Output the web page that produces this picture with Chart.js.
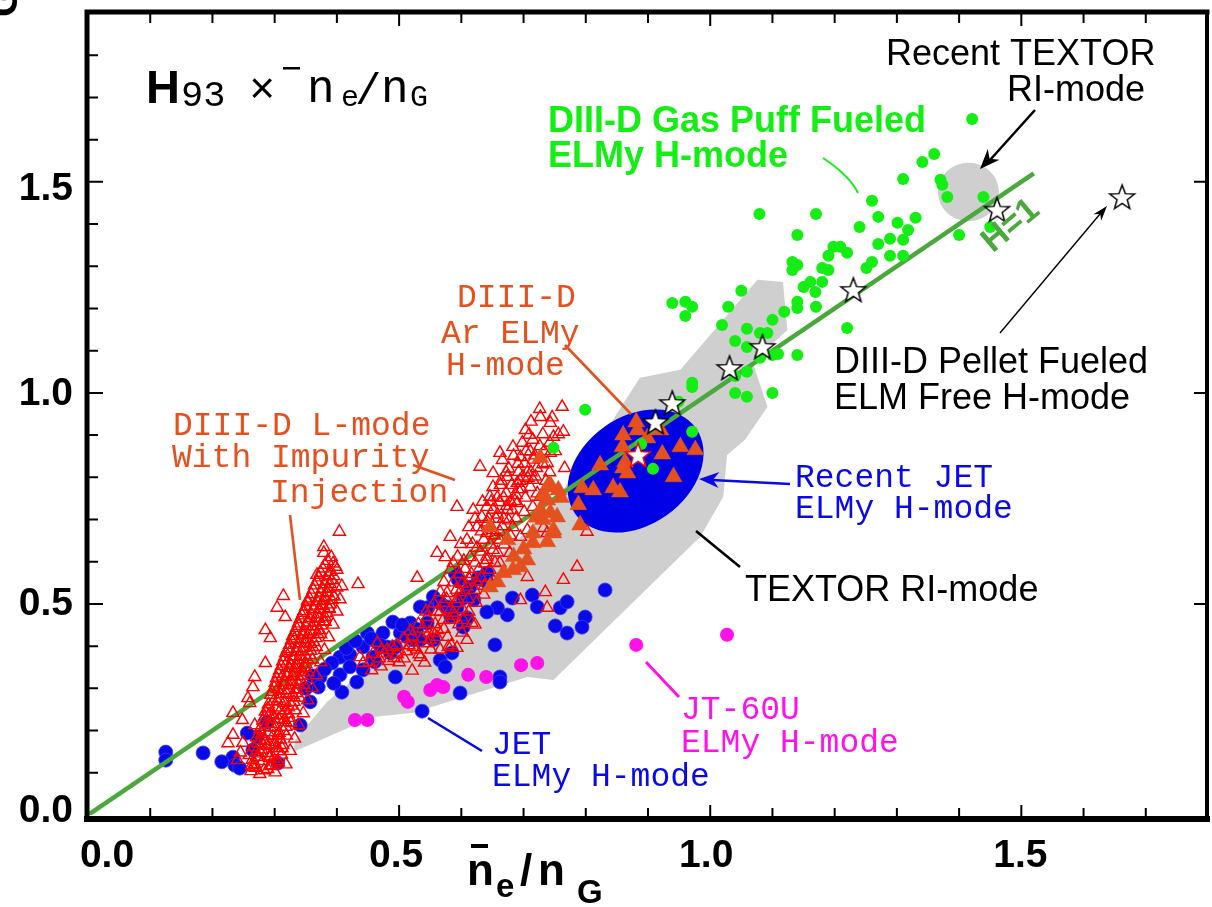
<!DOCTYPE html>
<html>
<head>
<meta charset="utf-8">
<script src="https://cdn.jsdelivr.net/npm/chart.js@4.4.0/dist/chart.umd.min.js"></script>
<style>
html, body { margin: 0; padding: 0; background: #fff; }
canvas { display: block; }
</style>
</head>
<body>
<canvas id="chart" width="1212" height="907"></canvas>
<script>
// Axis ticks
const xTickValues = [0, 0.5, 1.0, 1.5];
const xTickLabels = ['0.0', '0.5', '1.0', '1.5'];
const yTickValues = [0, 0.5, 1.0, 1.5];
const yTickLabels = ['0.0', '0.5', '1.0', '1.5'];

// H = 1 line
const h1Line = [[0, 0], [1.52, 1.52]];

// TEXTOR RI-mode region (outline)
const textorRegion = [
    [0.330, 0.149], [0.458, 0.232], [0.523, 0.242], [0.706, 0.327], [0.748, 0.320],
    [0.855, 0.474], [0.984, 0.659], [1.021, 0.754], [1.027, 0.853], [1.056, 0.889],
    [1.092, 0.967], [1.068, 1.073], [1.124, 1.149], [1.117, 1.263], [1.076, 1.268],
    [0.952, 1.055], [0.887, 1.036], [0.823, 0.889], [0.727, 0.699], [0.614, 0.557],
    [0.502, 0.415], [0.384, 0.268], [0.333, 0.178], [0.330, 0.149]
];

// Recent TEXTOR RI-mode and recent JET ELMy H-mode (centre x, y)
const textorRecent = [1.415, 1.476];
const jetRecent = [0.880, 0.815];

// DIII-D pellet fueled ELM free H-mode
const pelletStars = [
    [1.662, 1.464], [1.461, 1.434], [1.230, 1.244], [1.084, 1.109],
    [1.031, 1.059], [0.939, 0.976], [0.912, 0.931]
];
const redStar = [[0.884, 0.853]];

// DIII-D gas puff fueled ELMy H-mode
const gasPuff = [
    [1.421, 1.649], [1.360, 1.566], [1.341, 1.547], [1.310, 1.507], [1.370, 1.505],
    [1.373, 1.493], [1.381, 1.464], [1.439, 1.464], [1.450, 1.393], [1.400, 1.374],
    [1.260, 1.455], [1.330, 1.415], [1.301, 1.403], [1.270, 1.417], [1.240, 1.393],
    [1.318, 1.386], [1.310, 1.363], [1.289, 1.365], [1.270, 1.353], [1.289, 1.325],
    [1.310, 1.325], [1.260, 1.310], [1.251, 1.296], [1.170, 1.424], [1.079, 1.424],
    [1.140, 1.374], [1.198, 1.346], [1.209, 1.346], [1.220, 1.332], [1.190, 1.325],
    [1.132, 1.310], [1.140, 1.303], [1.132, 1.291], [1.180, 1.296], [1.190, 1.291],
    [1.180, 1.263], [1.161, 1.263], [1.150, 1.251], [1.169, 1.239], [1.140, 1.216],
    [1.140, 1.201], [1.170, 1.204], [1.119, 1.192], [1.100, 1.173], [1.050, 1.242],
    [1.029, 1.204], [0.939, 1.213], [0.960, 1.216], [0.971, 1.204], [0.960, 1.182],
    [1.019, 1.161], [1.059, 1.152], [1.080, 1.142], [1.092, 1.142], [1.040, 1.123],
    [1.059, 1.109], [1.100, 1.090], [1.109, 1.092], [1.140, 1.090], [1.080, 1.083],
    [1.220, 1.154], [1.040, 1.040], [1.059, 1.050], [0.971, 1.024], [0.971, 1.014],
    [1.040, 1.000], [1.059, 0.991], [1.100, 1.000], [0.949, 0.979], [0.971, 0.908],
    [0.799, 0.960], [0.748, 0.870], [0.889, 0.879], [0.908, 0.820]
];

// DIII-D Ar ELMy H-mode
const arElmy = [
    [0.881, 0.931], [0.883, 0.912], [0.920, 0.912], [0.860, 0.900], [0.899, 0.893],
    [0.952, 0.872], [0.976, 0.865], [0.859, 0.872], [0.923, 0.855], [0.863, 0.836],
    [0.823, 0.829], [0.867, 0.810], [0.860, 0.822], [0.941, 0.801], [0.794, 0.775],
    [0.812, 0.770], [0.844, 0.775], [0.855, 0.765], [0.788, 0.735], [0.791, 0.687],
    [0.748, 0.668], [0.738, 0.647], [0.738, 0.777], [0.756, 0.770], [0.732, 0.758],
    [0.743, 0.716], [0.754, 0.706], [0.727, 0.846], [0.743, 0.782], [0.738, 0.746],
    [0.748, 0.675], [0.715, 0.645], [0.706, 0.604], [0.683, 0.581], [0.658, 0.552],
    [0.646, 0.540], [0.727, 0.723], [0.715, 0.668], [0.646, 0.682], [0.674, 0.652],
    [0.695, 0.588], [0.720, 0.705], [0.700, 0.630], [0.684, 0.612], [0.760, 0.752],
    [0.731, 0.700], [0.668, 0.574]
];

// DIII-D L-mode with impurity injection
const lModeLow = [
    [0.262, 0.104], [0.276, 0.097], [0.289, 0.109], [0.301, 0.101], [0.268, 0.121],
    [0.281, 0.128], [0.293, 0.116], [0.306, 0.124], [0.259, 0.142], [0.273, 0.138],
    [0.287, 0.147], [0.298, 0.134], [0.311, 0.143], [0.266, 0.161], [0.279, 0.155],
    [0.292, 0.167], [0.304, 0.159], [0.271, 0.184], [0.284, 0.176], [0.297, 0.187],
    [0.309, 0.179], [0.276, 0.203], [0.289, 0.196], [0.301, 0.208], [0.314, 0.199],
    [0.281, 0.224], [0.294, 0.216], [0.306, 0.227], [0.318, 0.220], [0.285, 0.245],
    [0.298, 0.236], [0.309, 0.248], [0.322, 0.240], [0.290, 0.262], [0.302, 0.255],
    [0.315, 0.266], [0.327, 0.259], [0.294, 0.285], [0.307, 0.276], [0.319, 0.288],
    [0.331, 0.279], [0.299, 0.302], [0.311, 0.295], [0.323, 0.307], [0.336, 0.298],
    [0.303, 0.324], [0.316, 0.316], [0.329, 0.328], [0.341, 0.319], [0.308, 0.343],
    [0.321, 0.336], [0.333, 0.347], [0.346, 0.339], [0.313, 0.364], [0.326, 0.355],
    [0.338, 0.366], [0.350, 0.358], [0.318, 0.384], [0.331, 0.376], [0.343, 0.388],
    [0.356, 0.379], [0.324, 0.403], [0.336, 0.395], [0.349, 0.407], [0.361, 0.398],
    [0.329, 0.424], [0.342, 0.416], [0.354, 0.427], [0.366, 0.419], [0.335, 0.443],
    [0.347, 0.435], [0.360, 0.447], [0.372, 0.438], [0.341, 0.464], [0.353, 0.456],
    [0.366, 0.467], [0.378, 0.459], [0.347, 0.483], [0.359, 0.475], [0.372, 0.487],
    [0.384, 0.478], [0.353, 0.504], [0.366, 0.496], [0.378, 0.507], [0.389, 0.499],
    [0.359, 0.523], [0.371, 0.515], [0.384, 0.527], [0.395, 0.518], [0.364, 0.544],
    [0.377, 0.536], [0.389, 0.547], [0.400, 0.539], [0.371, 0.563], [0.383, 0.555],
    [0.395, 0.566], [0.377, 0.584], [0.389, 0.576], [0.398, 0.588], [0.385, 0.602],
    [0.394, 0.596], [0.404, 0.671], [0.379, 0.635], [0.379, 0.621], [0.368, 0.569],
    [0.400, 0.581], [0.434, 0.547], [0.314, 0.519], [0.304, 0.491], [0.317, 0.469],
    [0.285, 0.438], [0.293, 0.419], [0.285, 0.360], [0.268, 0.327], [0.265, 0.303],
    [0.257, 0.277], [0.260, 0.265], [0.233, 0.242], [0.248, 0.225], [0.268, 0.213],
    [0.233, 0.190], [0.249, 0.171], [0.265, 0.114], [0.272, 0.137], [0.225, 0.170],
    [0.240, 0.130], [0.245, 0.148],
    [0.269, 0.112], [0.283, 0.106], [0.296, 0.118], [0.264, 0.131], [0.278, 0.146],
    [0.292, 0.139], [0.305, 0.151], [0.273, 0.170], [0.287, 0.164], [0.300, 0.173],
    [0.313, 0.166], [0.279, 0.192], [0.293, 0.207], [0.306, 0.190], [0.318, 0.209],
    [0.284, 0.233], [0.299, 0.228], [0.312, 0.236], [0.324, 0.230], [0.289, 0.252],
    [0.304, 0.270], [0.317, 0.248], [0.331, 0.268], [0.296, 0.292], [0.309, 0.286],
    [0.322, 0.296], [0.334, 0.289], [0.301, 0.313], [0.314, 0.307], [0.327, 0.315],
    [0.339, 0.309], [0.306, 0.334], [0.319, 0.329], [0.331, 0.336], [0.344, 0.330],
    [0.311, 0.353], [0.323, 0.348], [0.336, 0.356], [0.348, 0.349], [0.316, 0.374],
    [0.329, 0.367], [0.341, 0.376], [0.353, 0.369], [0.321, 0.393], [0.334, 0.387],
    [0.346, 0.396], [0.358, 0.389], [0.327, 0.414], [0.339, 0.407], [0.351, 0.416],
    [0.363, 0.410], [0.332, 0.433], [0.344, 0.428], [0.357, 0.436], [0.369, 0.429],
    [0.338, 0.454], [0.350, 0.447], [0.363, 0.456], [0.375, 0.449], [0.344, 0.473],
    [0.356, 0.467], [0.369, 0.476], [0.381, 0.469], [0.350, 0.494], [0.362, 0.488],
    [0.375, 0.497], [0.387, 0.490], [0.356, 0.513], [0.368, 0.507], [0.381, 0.516],
    [0.392, 0.509], [0.362, 0.534], [0.374, 0.527], [0.386, 0.536], [0.368, 0.553],
    [0.380, 0.547], [0.392, 0.556], [0.374, 0.574], [0.386, 0.568], [0.381, 0.593],
    [0.391, 0.611],
    [0.318, 0.120], [0.263, 0.118], [0.325, 0.152], [0.270, 0.149], [0.332, 0.181],
    [0.277, 0.178], [0.339, 0.212], [0.284, 0.209], [0.346, 0.241], [0.291, 0.238],
    [0.353, 0.272], [0.298, 0.269], [0.360, 0.301], [0.305, 0.298], [0.367, 0.331],
    [0.312, 0.328], [0.374, 0.362], [0.319, 0.359], [0.380, 0.391], [0.325, 0.388],
    [0.387, 0.421], [0.332, 0.418], [0.394, 0.451], [0.339, 0.448], [0.400, 0.482],
    [0.346, 0.479], [0.405, 0.511], [0.353, 0.508], [0.408, 0.542],
    [0.292, 0.135], [0.300, 0.165], [0.307, 0.195], [0.315, 0.225], [0.322, 0.255],
    [0.329, 0.285], [0.336, 0.315], [0.343, 0.345], [0.350, 0.375], [0.357, 0.405],
    [0.364, 0.435], [0.371, 0.465], [0.378, 0.495], [0.385, 0.525],
    [0.305, 0.128], [0.312, 0.158], [0.319, 0.188], [0.326, 0.218], [0.333, 0.248],
    [0.340, 0.278], [0.347, 0.308], [0.354, 0.338], [0.361, 0.368], [0.367, 0.398],
    [0.374, 0.428], [0.381, 0.458], [0.388, 0.488], [0.395, 0.518]
];
const lModeHigh = [
    [0.437, 0.374], [0.442, 0.360], [0.465, 0.408], [0.481, 0.391], [0.489, 0.398],
    [0.529, 0.562], [0.523, 0.398], [0.534, 0.374], [0.545, 0.469], [0.555, 0.431],
    [0.550, 0.415], [0.561, 0.621], [0.574, 0.611], [0.577, 0.526], [0.579, 0.398],
    [0.593, 0.502], [0.587, 0.479], [0.593, 0.396], [0.603, 0.462], [0.609, 0.415],
    [0.617, 0.455], [0.619, 0.723], [0.593, 0.730], [0.582, 0.659], [0.587, 0.597],
    [0.609, 0.652], [0.614, 0.611], [0.625, 0.633], [0.633, 0.706], [0.630, 0.825],
    [0.646, 0.754], [0.651, 0.810], [0.662, 0.858], [0.666, 0.841], [0.674, 0.801],
    [0.683, 0.872], [0.695, 0.848], [0.703, 0.912], [0.715, 0.889], [0.727, 0.943],
    [0.743, 0.929], [0.762, 0.967], [0.764, 0.908], [0.748, 0.896], [0.715, 0.794],
    [0.727, 0.754], [0.715, 0.730], [0.690, 0.739], [0.674, 0.723], [0.651, 0.675],
    [0.641, 0.668], [0.662, 0.652], [0.678, 0.621], [0.662, 0.597], [0.641, 0.604],
    [0.683, 0.682], [0.695, 0.659], [0.706, 0.675], [0.732, 0.680], [0.738, 0.668],
    [0.786, 0.588], [0.764, 0.557], [0.735, 0.528], [0.738, 0.491], [0.695, 0.509],
    [0.706, 0.564], [0.667, 0.573], [0.802, 0.671], [0.743, 0.858], [0.738, 0.834],
    [0.690, 0.787], [0.711, 0.777], [0.651, 0.777], [0.641, 0.730], [0.625, 0.682],
    [0.651, 0.723], [0.500, 0.362], [0.512, 0.388], [0.521, 0.423], [0.538, 0.442],
    [0.546, 0.407], [0.558, 0.452], [0.566, 0.481], [0.571, 0.503], [0.581, 0.463],
    [0.592, 0.534], [0.601, 0.548], [0.606, 0.583], [0.616, 0.571], [0.622, 0.598],
    [0.631, 0.624], [0.636, 0.652], [0.642, 0.693], [0.647, 0.641], [0.656, 0.702],
    [0.661, 0.741], [0.666, 0.684], [0.672, 0.763], [0.676, 0.698], [0.681, 0.782],
    [0.686, 0.744], [0.692, 0.813], [0.697, 0.772], [0.702, 0.833], [0.707, 0.798],
    [0.711, 0.861], [0.721, 0.822], [0.726, 0.874], [0.731, 0.902], [0.736, 0.792],
    [0.742, 0.812], [0.722, 0.762], [0.701, 0.718], [0.688, 0.703], [0.679, 0.662],
    [0.669, 0.641], [0.658, 0.622], [0.654, 0.598], [0.646, 0.581], [0.632, 0.562],
    [0.621, 0.533], [0.611, 0.512], [0.602, 0.488], [0.589, 0.472], [0.572, 0.441],
    [0.561, 0.422], [0.551, 0.392], [0.532, 0.381], [0.471, 0.352], [0.492, 0.372],
    [0.456, 0.343], [0.476, 0.383], [0.521, 0.342], [0.541, 0.361], [0.584, 0.402],
    [0.601, 0.432], [0.622, 0.451], [0.636, 0.522], [0.652, 0.553], [0.751, 0.862],
    [0.756, 0.902], [0.726, 0.962], [0.712, 0.932], [0.746, 0.942], [0.766, 0.822],
    [0.452, 0.362], [0.468, 0.371], [0.483, 0.365], [0.497, 0.381], [0.508, 0.371],
    [0.516, 0.402], [0.528, 0.392], [0.536, 0.418], [0.548, 0.432], [0.562, 0.438],
    [0.571, 0.462], [0.583, 0.488], [0.594, 0.512], [0.598, 0.528], [0.609, 0.541],
    [0.613, 0.558], [0.624, 0.552], [0.628, 0.582], [0.638, 0.596], [0.641, 0.612],
    [0.651, 0.628], [0.653, 0.662], [0.662, 0.671], [0.668, 0.702], [0.673, 0.732],
    [0.682, 0.722], [0.688, 0.758], [0.694, 0.792], [0.703, 0.752], [0.706, 0.812],
    [0.716, 0.842], [0.719, 0.802], [0.731, 0.831], [0.733, 0.862], [0.742, 0.882],
    [0.658, 0.752], [0.664, 0.792], [0.676, 0.821], [0.684, 0.851], [0.698, 0.882],
    [0.709, 0.901], [0.634, 0.742], [0.622, 0.702], [0.612, 0.682], [0.599, 0.642],
    [0.594, 0.612], [0.583, 0.582], [0.572, 0.552], [0.566, 0.528], [0.556, 0.501],
    [0.543, 0.482], [0.531, 0.452], [0.518, 0.436], [0.508, 0.418], [0.496, 0.402],
    [0.472, 0.392], [0.458, 0.382], [0.566, 0.392], [0.578, 0.422], [0.596, 0.452],
    [0.612, 0.482], [0.624, 0.503], [0.637, 0.543],
    [0.658, 0.712], [0.668, 0.752], [0.679, 0.742], [0.691, 0.772], [0.699, 0.802],
    [0.712, 0.812], [0.718, 0.852], [0.704, 0.862], [0.691, 0.832], [0.672, 0.812],
    [0.663, 0.782], [0.648, 0.742], [0.644, 0.702], [0.632, 0.672], [0.618, 0.642],
    [0.604, 0.602], [0.597, 0.571], [0.587, 0.551], [0.576, 0.512], [0.561, 0.482]
];

// JET ELMy H-mode
const jetElmy = [
    [0.831, 0.533], [0.714, 0.521], [0.722, 0.493], [0.759, 0.491], [0.770, 0.505],
    [0.799, 0.469], [0.794, 0.445], [0.751, 0.448], [0.770, 0.431], [0.682, 0.514],
    [0.674, 0.474], [0.658, 0.491], [0.641, 0.481], [0.654, 0.403], [0.662, 0.327],
    [0.662, 0.315], [0.598, 0.289], [0.537, 0.246], [0.494, 0.327], [0.432, 0.315],
    [0.408, 0.291], [0.405, 0.332], [0.405, 0.374], [0.421, 0.379], [0.421, 0.351],
    [0.449, 0.431], [0.442, 0.398], [0.442, 0.344], [0.474, 0.431], [0.490, 0.457],
    [0.518, 0.455], [0.502, 0.431], [0.513, 0.422], [0.523, 0.415], [0.494, 0.398],
    [0.481, 0.398], [0.458, 0.374], [0.461, 0.363], [0.486, 0.384], [0.534, 0.415],
    [0.555, 0.415], [0.545, 0.491], [0.534, 0.493], [0.555, 0.517], [0.566, 0.502],
    [0.577, 0.493], [0.593, 0.491], [0.590, 0.573], [0.595, 0.557], [0.603, 0.514],
    [0.609, 0.467], [0.603, 0.445], [0.614, 0.540], [0.627, 0.562], [0.641, 0.573],
    [0.641, 0.552], [0.566, 0.367], [0.574, 0.351], [0.585, 0.384], [0.373, 0.327],
    [0.370, 0.303], [0.357, 0.268], [0.341, 0.213], [0.288, 0.220], [0.272, 0.185],
    [0.256, 0.194], [0.265, 0.154], [0.233, 0.137], [0.236, 0.118], [0.215, 0.126],
    [0.305, 0.123], [0.185, 0.147], [0.125, 0.149], [0.125, 0.130], [0.244, 0.111],
    [0.392, 0.360], [0.415, 0.395], [0.430, 0.412], [0.455, 0.418], [0.470, 0.402],
    [0.505, 0.450], [0.528, 0.440], [0.545, 0.455], [0.583, 0.470], [0.620, 0.510],
    [0.350, 0.300], [0.360, 0.330], [0.395, 0.312], [0.380, 0.345]
];

// JT-60U ELMy H-mode
const jt60u = [
    [0.429, 0.225], [0.449, 0.225], [0.508, 0.280], [0.514, 0.268], [0.550, 0.296],
    [0.561, 0.308], [0.571, 0.303], [0.611, 0.332], [0.640, 0.327], [0.696, 0.355],
    [0.722, 0.360], [0.881, 0.403], [1.027, 0.427]
];

const toXY = arr => arr.map(p => ({ x: p[0], y: p[1] }));

// Colours
const BLUE = '#0a0ae8';
const MAGENTA = '#ff12ea';
const LIME = '#14ee14';
const ORANGE = '#e5501f';
const RED = '#ff0000';
const LINE_GREEN = '#4aa83c';
const GREY = '#cfcfcf';

const SANS = '"Liberation Sans", Arial, Helvetica, sans-serif';
const MONO = '"Liberation Mono", "Courier New", monospace';

function makeStar(stroke) {
    const c = document.createElement('canvas');
    c.width = 30; c.height = 30;
    const g = c.getContext('2d');
    g.beginPath();
    for (let i = 0; i < 10; i++) {
        const r = i % 2 ? 5.4 : 13;
        const a = -Math.PI / 2 + i * Math.PI / 5;
        g.lineTo(15 + r * Math.cos(a), 16 + r * Math.sin(a));
    }
    g.closePath();
    g.fillStyle = '#fff';
    g.fill();
    g.strokeStyle = stroke;
    g.lineWidth = 1.5;
    g.stroke();
    return c;
}

const POLY_INDEX = 8;

// helpers for annotations
function seg(ctx, pts, color, w) {
    ctx.save();
    ctx.strokeStyle = color;
    ctx.lineWidth = w;
    ctx.lineCap = 'butt';
    ctx.beginPath();
    pts.forEach((p, i) => i ? ctx.lineTo(p[0], p[1]) : ctx.moveTo(p[0], p[1]));
    ctx.stroke();
    ctx.restore();
}

function arrowHead(ctx, from, tip, color, len, half) {
    const a = Math.atan2(tip[1] - from[1], tip[0] - from[0]);
    ctx.save();
    ctx.translate(tip[0], tip[1]);
    ctx.rotate(a);
    ctx.fillStyle = color;
    ctx.beginPath();
    ctx.moveTo(0, 0);
    ctx.lineTo(-len, -half);
    ctx.lineTo(-len * 0.7, 0);
    ctx.lineTo(-len, half);
    ctx.closePath();
    ctx.fill();
    ctx.restore();
}

function txt(ctx, s, x, y, font, color) {
    ctx.save();
    ctx.font = font;
    ctx.fillStyle = color;
    ctx.textAlign = 'left';
    ctx.textBaseline = 'alphabetic';
    ctx.fillText(s, x, y);
    ctx.restore();
}

const shapesPlugin = {
    id: 'shapes',
    afterDatasetDraw(chart, args) {
        if (args.index !== POLY_INDEX) return;
        const { ctx, scales: { x, y } } = chart;
        const ppu = x.getPixelForValue(1) - x.getPixelForValue(0);
        ctx.save();
        // recent TEXTOR
        ctx.fillStyle = GREY;
        ctx.beginPath();
        ctx.ellipse(x.getPixelForValue(textorRecent[0]), y.getPixelForValue(textorRecent[1]),
            0.049 * ppu, 0.047 * ppu, 0, 0, Math.PI * 2);
        ctx.fill();
        // recent JET
        ctx.fillStyle = '#0000e6';
        ctx.beginPath();
        ctx.ellipse(x.getPixelForValue(jetRecent[0]), y.getPixelForValue(jetRecent[1]),
            0.119 * ppu, 0.087 * ppu, -35.5 * Math.PI / 180, 0, Math.PI * 2);
        ctx.fill();
        ctx.restore();
    }
};

const framePlugin = {
    id: 'frame',
    afterDraw(chart) {
        const { ctx, chartArea: a, scales: { x, y } } = chart;
        ctx.save();
        ctx.strokeStyle = '#000';
        ctx.lineCap = 'square';
        // frame
        ctx.lineWidth = 5;
        ctx.beginPath();
        ctx.moveTo(a.left - 1, a.top - 1); ctx.lineTo(a.left - 1, a.bottom + 4);
        ctx.moveTo(a.left - 1, a.top - 1); ctx.lineTo(a.right - 1, a.top - 1);
        ctx.stroke();
        ctx.lineWidth = 6;
        ctx.beginPath();
        ctx.moveTo(a.left - 1, a.bottom + 4); ctx.lineTo(a.right - 1, a.bottom + 4);
        ctx.stroke();
        ctx.lineWidth = 4;
        ctx.beginPath();
        ctx.moveTo(a.right - 1, a.top - 1); ctx.lineTo(a.right - 1, a.bottom + 4);
        ctx.stroke();
        // ticks
        ctx.lineCap = 'butt';
        ctx.lineWidth = 2;
        ctx.beginPath();
        for (let i = 1; i < 18; i++) {
            const v = i / 10;
            const px = x.getPixelForValue(v);
            const len = i % 5 === 0 ? 12 : 9;
            ctx.moveTo(px, a.bottom + 2); ctx.lineTo(px, a.bottom + 2 - len);
            ctx.moveTo(px, a.top + 1); ctx.lineTo(px, a.top + 1 + len);
        }
        for (let i = 1; i < 19; i++) {
            const v = i / 10;
            const py = y.getPixelForValue(v);
            const major = i % 5 === 0;
            ctx.moveTo(a.left + 1, py); ctx.lineTo(a.left + 1 + (major ? 14 : 9), py);
            if (major) { ctx.moveTo(a.right - 2, py); ctx.lineTo(a.right - 14, py); }
        }
        ctx.stroke();

        // tick labels
        ctx.fillStyle = '#000';
        ctx.font = 'bold 39px ' + SANS;
        ctx.textBaseline = 'alphabetic';
        ctx.textAlign = 'center';
        const xShift = [19, -3, -4, -1];
        xTickValues.forEach((v, i) => {
            ctx.fillText(xTickLabels[i], x.getPixelForValue(v) + xShift[i], 867);
        });
        ctx.textAlign = 'right';
        const yShift = [-7, -3, -2, 4];
        yTickValues.forEach((v, i) => {
            ctx.fillText(yTickLabels[i], 73, y.getPixelForValue(v) + yShift[i] + 14);
        });

        // axis title  n̄e/nG
        ctx.textAlign = 'left';
        ctx.font = 'bold 44px ' + SANS;
        ctx.fillText('n', 467, 885);
        ctx.fillText('/', 520, 885);
        ctx.fillText('n', 538, 885);
        ctx.font = 'bold 33px ' + SANS;
        ctx.fillText('e', 496, 897);
        ctx.fillText('G', 577, 903);
        ctx.fillRect(471, 844, 17, 4);

        // cut-off rotated title fragment
        ctx.save();
        ctx.translate(17, 17);
        ctx.rotate(-Math.PI / 2);
        ctx.font = 'bold 40px ' + SANS;
        ctx.fillText('G', 0, 0);
        ctx.restore();
        ctx.restore();
    }
};

const notesPlugin = {
    id: 'notes',
    afterDatasetsDraw(chart) {
        const { ctx } = chart;
        const courier = '33px ' + MONO;
        const helv = '36px ' + SANS;

        // H93 x n̄e/nG
        txt(ctx, 'H', 146, 103, 'bold 47px ' + SANS, '#000');
        txt(ctx, '93', 181, 106, '37px ' + MONO, '#000');
        txt(ctx, '\u00d7', 249, 103, '44px ' + MONO, '#000');
        ctx.fillStyle = '#000';
        ctx.fillRect(283, 67, 17, 2.5);
        txt(ctx, 'n', 307, 102, '46px ' + MONO, '#000');
        txt(ctx, 'e', 341, 106, '30px ' + MONO, '#000');
        txt(ctx, '/', 355, 104, '44px ' + MONO, '#000');
        txt(ctx, 'n', 381, 102, '46px ' + MONO, '#000');
        txt(ctx, 'G', 410, 106, '30px ' + MONO, '#000');

        // H=1 label
        ctx.save();
        ctx.translate(1011, 226);
        ctx.rotate(-40 * Math.PI / 180);
        ctx.font = 'bold 34px ' + SANS;
        ctx.fillStyle = LINE_GREEN;
        ctx.textAlign = 'center';
        ctx.textBaseline = 'middle';
        ctx.fillText('H=1', 0, 0);
        ctx.restore();

        // Recent TEXTOR
        txt(ctx, 'Recent TEXTOR', 886, 65, helv, '#000');
        txt(ctx, 'RI-mode', 1007, 101, helv, '#000');
        seg(ctx, [[1035, 110], [990, 160]], '#000', 2.6);
        arrowHead(ctx, [1035, 110], [980, 169], '#000', 20, 8);

        // gas puff
        txt(ctx, 'DIII-D Gas Puff Fueled', 548, 132, 'bold 36px ' + SANS, LIME);
        txt(ctx, 'ELMy H-mode', 548, 167, 'bold 36px ' + SANS, LIME);
        ctx.save();
        ctx.strokeStyle = LIME;
        ctx.lineWidth = 2;
        ctx.beginPath();
        ctx.moveTo(823, 158);
        ctx.quadraticCurveTo(850, 176, 858, 193);
        ctx.stroke();
        ctx.restore();

        // pellet
        txt(ctx, 'DIII-D Pellet Fueled', 834, 373, helv, '#000');
        txt(ctx, 'ELM Free H-mode', 834, 409, helv, '#000');
        seg(ctx, [[1000, 333], [1100, 214]], '#000', 1.4);
        arrowHead(ctx, [1000, 333], [1107, 206], '#000', 15, 5);

        // Ar ELMy
        txt(ctx, 'DIII-D', 457, 307, courier, ORANGE);
        txt(ctx, 'Ar ELMy', 441, 343, courier, ORANGE);
        txt(ctx, 'H-mode', 446, 375, courier, ORANGE);
        seg(ctx, [[565, 345], [631, 414]], ORANGE, 2.6);

        // L-mode
        txt(ctx, 'DIII-D L-mode', 173, 435, courier, ORANGE);
        txt(ctx, 'With Impurity', 172, 467, courier, ORANGE);
        txt(ctx, 'Injection', 270, 502, courier, ORANGE);
        seg(ctx, [[413, 465], [455, 480]], ORANGE, 2.6);
        seg(ctx, [[290, 515], [300, 600]], ORANGE, 2.6);

        // Recent JET
        txt(ctx, 'Recent JET', 795, 487, courier, BLUE);
        txt(ctx, 'ELMy H-mode', 795, 518, courier, BLUE);
        seg(ctx, [[790, 484], [712, 480]], BLUE, 2.6);
        arrowHead(ctx, [790, 484], [699, 479], BLUE, 20, 8);

        // TEXTOR RI-mode
        txt(ctx, 'TEXTOR RI-mode', 745, 601, helv, '#000');
        seg(ctx, [[696, 531], [740, 567]], '#000', 2.6);

        // JET
        txt(ctx, 'JET', 492, 754, courier, BLUE);
        txt(ctx, 'ELMy H-mode', 492, 786, courier, BLUE);
        seg(ctx, [[428, 718], [482, 751]], BLUE, 2.6);

        // JT-60U
        txt(ctx, 'JT-60U', 681, 719, courier, MAGENTA);
        txt(ctx, 'ELMy H-mode', 681, 752, courier, MAGENTA);
        seg(ctx, [[646, 662], [679, 697]], MAGENTA, 3);
    }
};

const blackStar = makeStar('#000');
const redStarImg = makeStar(RED);

new Chart(document.getElementById('chart'), {
    type: 'scatter',
    data: {
        datasets: [
            { data: toXY(pelletStars), pointStyle: blackStar, pointRadius: 13 },
            { data: toXY(redStar), pointStyle: redStarImg, pointRadius: 13 },
            { data: toXY(gasPuff), pointRadius: 6, backgroundColor: LIME, borderColor: LIME, borderWidth: 0 },
            { data: toXY(arElmy), pointStyle: 'triangle', pointRadius: 9.8, backgroundColor: ORANGE, borderColor: ORANGE, borderWidth: 0.5 },
            { data: toXY(lModeLow.concat(lModeHigh)), pointStyle: 'triangle', pointRadius: 7,
              backgroundColor: 'rgba(255,255,255,0)', borderColor: RED, borderWidth: 1.4 },
            { data: toXY(h1Line), showLine: true, borderColor: LINE_GREEN, borderWidth: 4.5, pointRadius: 0 },
            { data: toXY(jt60u), pointRadius: 7, backgroundColor: MAGENTA, borderColor: MAGENTA, borderWidth: 0 },
            { data: toXY(jetElmy), pointRadius: 7, backgroundColor: BLUE, borderColor: '#3a3af6', borderWidth: 0.8 },
            { data: toXY(textorRegion), showLine: true, fill: 'shape', backgroundColor: GREY,
              borderColor: GREY, borderWidth: 0, pointRadius: 0 }
        ]
    },
    options: {
        responsive: false,
        animation: false,
        devicePixelRatio: 1,
        events: [],
        layout: { autoPadding: false, padding: { left: 88, right: 4, top: 13, bottom: 92 } },
        scales: {
            x: { type: 'linear', min: 0, max: 1.8, display: false },
            y: { type: 'linear', min: 0, max: 1.9, display: false }
        },
        plugins: {
            legend: { display: false },
            tooltip: { enabled: false }
        }
    },
    plugins: [shapesPlugin, framePlugin, notesPlugin]
});
</script>
</body>
</html>
